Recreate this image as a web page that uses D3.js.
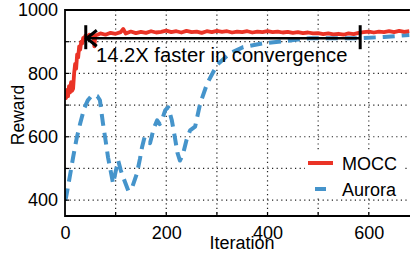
<!DOCTYPE html>
<html>
<head>
<meta charset="utf-8">
<script src="https://cdn.jsdelivr.net/npm/d3@7"></script>
<style>
    html, body { margin: 0; padding: 0; background: #fff; }
    svg { display: block; font-family: "Liberation Sans", Arial, sans-serif; }
    .grid line { stroke: #222; stroke-width: 1.2; stroke-dasharray: 1.2, 3.4; }
</style>
</head>
<body>
<svg id="chart" width="410" height="256"></svg>
<script>
var moccIter = [0, 2, 4, 6, 8, 10, 12, 14, 16, 18, 20, 22, 24, 26, 28, 30, 32, 34, 36, 38, 40, 44, 48, 52, 56, 58, 60, 64, 70, 80, 90, 100, 110, 115, 120, 130, 140, 150, 160, 170, 180, 190, 200, 210, 220, 230, 240, 250, 260, 270, 280, 290, 300, 310, 320, 330, 340, 350, 360, 370, 380, 390, 400, 410, 420, 430, 440, 450, 460, 470, 480, 490, 500, 510, 520, 530, 540, 550, 560, 570, 580, 590, 600, 610, 620, 630, 640, 650, 660, 670, 680];
var moccReward = [735, 722, 748, 728, 760, 740, 772, 745, 752, 800, 830, 815, 860, 850, 885, 875, 900, 895, 912, 905, 918, 915, 922, 918, 920, 885, 920, 922, 926, 922, 928, 925, 930, 940, 926, 932, 927, 931, 928, 933, 929, 931, 935, 930, 933, 929, 934, 930, 932, 928, 933, 930, 934, 931, 933, 929, 932, 930, 933, 929, 932, 930, 933, 930, 932, 929, 931, 928, 930, 927, 929, 926, 927, 924, 926, 923, 925, 922, 926, 924, 928, 930, 932, 929, 932, 930, 933, 930, 934, 931, 933];

var auroraIter = [0, 2, 9, 16, 23, 30, 38, 45, 52, 59, 64, 69, 75, 80, 85, 95, 100, 105, 110, 115, 125, 132, 142, 148, 152, 157, 162, 168, 175, 182, 187, 192, 198, 204, 211, 217, 222, 227, 233, 240, 247, 257, 267, 281, 300, 326, 352, 391, 440, 484, 540, 583, 630, 680];
var auroraReward = [400, 408, 470, 535, 595, 642, 690, 715, 728, 731, 728, 715, 642, 590, 535, 452, 490, 525, 495, 472, 430, 437, 484, 530, 566, 598, 585, 580, 625, 652, 640, 655, 684, 693, 652, 598, 550, 525, 545, 590, 620, 632, 705, 769, 826, 864, 883, 895, 903, 911, 911, 911, 915, 921];

var xTicks = [0, 200, 400, 600];
var yTicks = [400, 600, 800, 1000];
var xGrid = [100, 200, 300, 400, 500, 600];
var yGrid = [400, 500, 600, 700, 800, 900];
var seriesNames = ["MOCC", "Aurora"];
var seriesColors = ["#ea3326", "#4594cb"];
var speedup = { from: 41, to: 583, at: 911, label: "14.2X faster in convergence" };

(function() {
    var svg = d3.select("#chart");
    var left = 65, right = 409.3, top = 10, bottom = 216;

    var x = d3.scaleLinear().domain([0, 680]).range([left, right]);
    var y = d3.scaleLinear().domain([350, 1000]).range([bottom, top]);

    svg.append("defs").append("clipPath").attr("id", "plot-clip")
        .append("rect")
        .attr("x", left).attr("y", top)
        .attr("width", right - left + 1).attr("height", bottom - top);

    // dotted grid
    var grid = svg.append("g").attr("class", "grid");
    grid.selectAll(".gx").data(xGrid).enter().append("line")
        .attr("x1", function(d) { return x(d); })
        .attr("x2", function(d) { return x(d); })
        .attr("y1", top).attr("y2", bottom);
    grid.selectAll(".gy").data(yGrid).enter().append("line")
        .attr("x1", left).attr("x2", right + 1)
        .attr("y1", function(d) { return y(d); })
        .attr("y2", function(d) { return y(d); });

    var line = d3.line()
        .x(function(d) { return x(d[0]); })
        .y(function(d) { return y(d[1]); });

    var plot = svg.append("g").attr("clip-path", "url(#plot-clip)");

    plot.append("path")
        .datum(d3.zip(auroraIter, auroraReward))
        .attr("fill", "none")
        .attr("stroke", seriesColors[1])
        .attr("stroke-width", 4)
        .attr("stroke-dasharray", "12,7")
        .attr("stroke-linejoin", "round")
        .attr("d", line);

    plot.append("path")
        .datum(d3.zip(moccIter, moccReward))
        .attr("fill", "none")
        .attr("stroke", seriesColors[0])
        .attr("stroke-width", 3.8)
        .attr("stroke-linejoin", "round")
        .attr("d", line);

    // axes
    var xAxis = svg.append("g")
        .attr("transform", "translate(0," + bottom + ")")
        .call(d3.axisBottom(x).tickValues(xTicks).tickFormat(d3.format("d")).tickSize(0).tickPadding(10));
    var yAxis = svg.append("g")
        .attr("transform", "translate(" + left + ",0)")
        .call(d3.axisLeft(y).tickValues(yTicks).tickFormat(d3.format("d")).tickSize(0).tickPadding(7));
    [xAxis, yAxis].forEach(function(a) {
        a.select(".domain").remove();
        a.selectAll("text")
            .attr("fill", "#000")
            .style("font-size", "18px")
            .style("font-family", "'Liberation Sans', Arial, sans-serif");
    });

    // inward minor ticks
    svg.append("g").selectAll("line").data(xGrid).enter().append("line")
        .attr("x1", function(d) { return x(d); })
        .attr("x2", function(d) { return x(d); })
        .attr("y1", bottom).attr("y2", bottom - 4)
        .attr("stroke", "#000").attr("stroke-width", 1.2);
    svg.append("g").selectAll("line").data(yGrid).enter().append("line")
        .attr("x1", left).attr("x2", left + 4)
        .attr("y1", function(d) { return y(d); })
        .attr("y2", function(d) { return y(d); })
        .attr("stroke", "#000").attr("stroke-width", 1.2);

    // frame
    svg.append("path")
        .attr("d", "M" + (right + 1) + "," + top + "H" + left + "V" + bottom + "H" + (right + 1))
        .attr("fill", "none")
        .attr("stroke", "#000")
        .attr("stroke-width", 1.8);

    svg.append("text")
        .attr("x", 242).attr("y", 249)
        .attr("text-anchor", "middle")
        .style("font-size", "18px")
        .text("Iteration");

    svg.append("text")
        .attr("transform", "translate(24,115) rotate(-90)")
        .attr("text-anchor", "middle")
        .style("font-size", "17.5px")
        .text("Reward");

    // convergence annotation
    var ay = y(speedup.at);
    var x0 = x(speedup.from), x1 = x(speedup.to);
    var note = svg.append("g")
        .attr("stroke", "#000")
        .attr("fill", "none");
    note.append("line").attr("x1", x0).attr("x2", x1).attr("y1", ay).attr("y2", ay).attr("stroke-width", 2.4);
    note.append("line").attr("x1", x0).attr("x2", x0).attr("y1", ay - 13).attr("y2", ay + 11).attr("stroke-width", 3);
    note.append("line").attr("x1", x1).attr("x2", x1).attr("y1", ay - 13).attr("y2", ay + 11).attr("stroke-width", 3);
    note.append("path")
        .attr("d", "M" + (x0 + 11) + "," + (ay - 8) + "L" + (x0 + 1) + "," + ay + "L" + (x0 + 11) + "," + (ay + 8))
        .attr("stroke-width", 3);

    svg.append("text")
        .attr("x", 96).attr("y", 62)
        .style("font-size", "20.2px")
        .text(speedup.label);

    // legend
    var legend = svg.append("g");
    legend.append("rect")
        .attr("x", 305).attr("y", 152)
        .attr("width", 97).attr("height", 45)
        .attr("fill", "#fff");
    legend.append("line")
        .attr("x1", 308).attr("x2", 333).attr("y1", 163).attr("y2", 163)
        .attr("stroke", seriesColors[0]).attr("stroke-width", 4);
    legend.append("line")
        .attr("x1", 315).attr("x2", 326).attr("y1", 189).attr("y2", 189)
        .attr("stroke", seriesColors[1]).attr("stroke-width", 4);
    legend.selectAll(".legend-label").data(seriesNames).enter().append("text")
        .attr("x", 342)
        .attr("y", function(d, i) { return 170 + i * 25.5; })
        .style("font-size", "18px")
        .text(function(d) { return d; });
})();
</script>
</body>
</html>
